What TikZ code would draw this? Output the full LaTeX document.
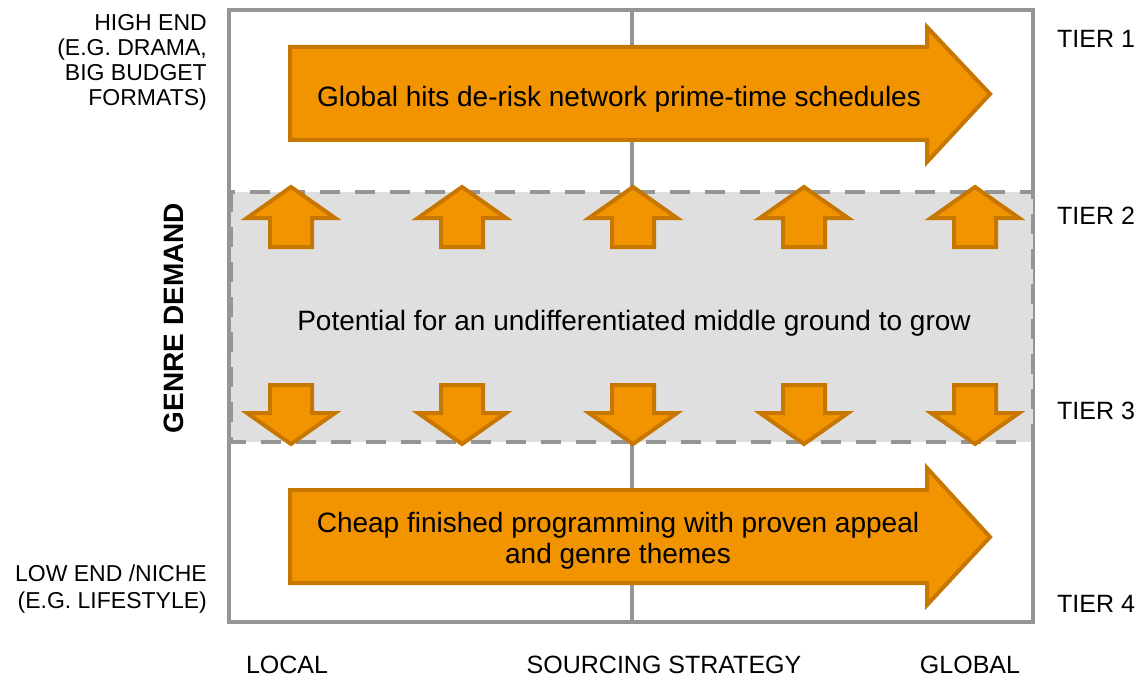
\documentclass[tikz,border=0pt]{standalone}
\usepackage{fontspec}
\setmainfont{Liberation Sans}

\definecolor{arrfill}{HTML}{F29400}
\definecolor{arrline}{HTML}{C77700}
\definecolor{framegray}{HTML}{959595}
\definecolor{bandgray}{HTML}{DFDFDF}

\tikzset{
	bigtext/.style={font=\fontsize{28}{31}\selectfont},
	smalltext/.style={font=\fontsize{23}{25}\selectfont, inner sep=0pt},
	axistext/.style={font=\fontsize{25}{27}\selectfont, inner sep=0pt},
	arrowbody/.style={fill=arrfill, draw=arrline, line width=4pt},
	uparr/.pic={\draw[arrowbody] (-21,247) -- (-21,218) -- (-44,218) -- (0,187) -- (44,218) -- (21,218) -- (21,247) -- cycle;},
	downarr/.pic={\draw[arrowbody] (-21,385) -- (-21,413) -- (-44,413) -- (0,444) -- (44,413) -- (21,413) -- (21,385) -- cycle;}
}

\begin{document}
\begin{tikzpicture}[x=1pt, y=-1pt]
		\useasboundingbox (0,0) rectangle (1139,679);

		% frame and middle band
		\draw[framegray, line width=4pt] (229,10) rectangle (1033,622);
		\draw[framegray, line width=4pt] (632,10) -- (632,622);
		\fill[bandgray] (231,192) rectangle (1033,442);
		\draw[framegray, line width=4pt, dash pattern=on 20pt off 15pt] (231,192) rectangle (1033,442);

		% big arrows
		\draw[arrowbody] (290,47) -- (927,47) -- (927,27) -- (990,94) -- (927,162) -- (927,140) -- (290,140) -- cycle;
		\draw[arrowbody] (290,490) -- (927,490) -- (927,468) -- (990,537) -- (927,605) -- (927,583) -- (290,583) -- cycle;

		% small arrows
		\pic at (291,0) {uparr};
		\pic at (462,0) {uparr};
		\pic at (633,0) {uparr};
		\pic at (804,0) {uparr};
		\pic at (975,0) {uparr};
		\pic at (291,0) {downarr};
		\pic at (462,0) {downarr};
		\pic at (633,0) {downarr};
		\pic at (804,0) {downarr};
		\pic at (975,0) {downarr};

		\node[bigtext] (hits) at (619,99) {Global hits de-risk network prime-time schedules};
		\node[bigtext] (middle) at (634,323) {Potential for an undifferentiated middle ground to grow};
		\node[bigtext, align=center] (cheap) at (618,541) {Cheap finished programming with proven appeal\\and genre themes};

		\node[smalltext, align=right, anchor=east] (hiend) at (207,62) {HIGH END\\(E.G. DRAMA,\\BIG BUDGET\\FORMATS)};
		\node[smalltext, align=right, anchor=east, font=\fontsize{23}{27}\selectfont] (loend) at (207,589) {LOW END /NICHE\\(E.G. LIFESTYLE)};
		\node[bigtext, font=\fontsize{28}{31}\selectfont\bfseries, rotate=90] (genre) at (174,318) {GENRE DEMAND};

		\node[axistext, anchor=west] (tier1) at (1057,39) {TIER 1};
		\node[axistext, anchor=west] (tier2) at (1057,216) {TIER 2};
		\node[axistext, anchor=west] (tier3) at (1057,411) {TIER 3};
		\node[axistext, anchor=west] (tier4) at (1057,604) {TIER 4};

		\node[axistext] (local) at (287,665) {LOCAL};
		\node[axistext] (sourcing) at (664,665) {SOURCING STRATEGY};
		\node[axistext] (global) at (970,665) {GLOBAL};
	\end{tikzpicture}
\end{document}
